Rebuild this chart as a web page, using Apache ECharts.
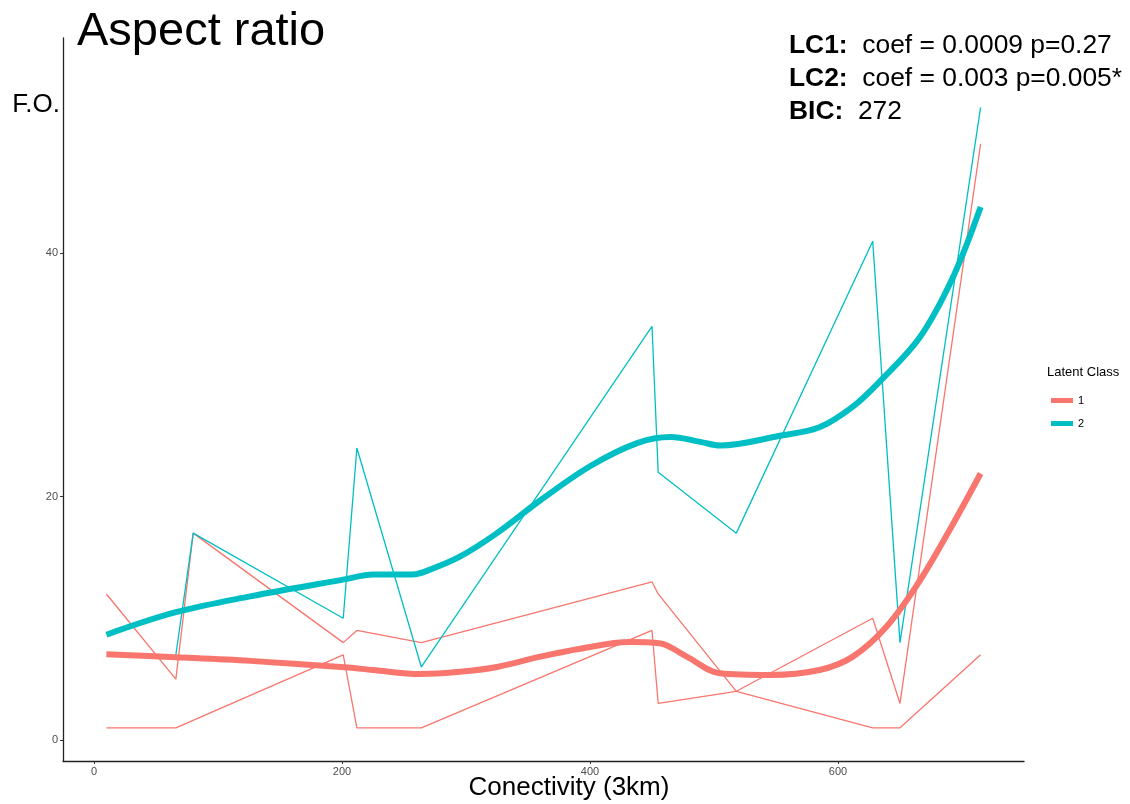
<!DOCTYPE html>
<html>
<head>
<meta charset="utf-8">
<script src="https://cdn.jsdelivr.net/npm/echarts@6/dist/echarts.min.js"></script>
<style>
html,body{margin:0;padding:0;background:#fff;}
#chart{width:1130px;height:804px;}
</style>
</head>
<body>
<div id="chart"></div>
<script>
// ---- data ----
const xTicks = [0, 200, 400, 600];
const yTicks = [0, 20, 40];

// individual trajectories, class 1 (two) and class 2 (one)
const ind1X = [10, 66, 80, 201, 212, 264, 450, 455, 518, 628, 650, 715];
const ind1Y = [12, 5, 17, 8, 9, 8, 13, 12, 4, 1, 1, 7];
const ind2X = [10, 66, 201, 212, 264, 450, 455, 518, 628, 650, 715];
const ind2Y = [1, 1, 7, 1, 1, 9, 3, 4, 10, 3, 49];
const ind3X = [66, 80, 201, 212, 264, 450, 455, 518, 628, 650, 715];
const ind3Y = [7, 17, 10, 24, 6, 34, 22, 17, 41, 8, 52];

// smoothed class trajectories
const lc1X = [10, 66, 126, 202, 225, 263, 295, 325, 360, 392, 432, 456, 478, 505, 545, 585, 612, 639, 666, 693, 715];
const lc1Y = [7.05, 6.8, 6.5, 5.97, 5.75, 5.42, 5.6, 6.0, 6.85, 7.5, 8.05, 7.95, 6.85, 5.48, 5.34, 5.75, 6.85, 9.3, 13.1, 17.8, 21.9];
const lc2X = [10, 66, 126, 202, 225, 257, 271, 295, 325, 360, 400, 438, 465, 489, 505, 553, 585, 612, 634, 666, 693, 715];
const lc2Y = [8.65, 10.5, 11.8, 13.2, 13.6, 13.6, 14.0, 15.06, 17.0, 19.7, 22.5, 24.4, 24.9, 24.5, 24.2, 25.0, 25.7, 27.4, 29.5, 33.1, 38.1, 43.8];

const classNames = ['1', '2'];
const classColors = ['#F8766D', '#00BFC4'];
const xAxisTitle = 'Conectivity (3km)';
const yAxisTitle = 'F.O.';

const zip = (xs, ys) => xs.map((x, i) => [x, ys[i]]);

const FONT = 'Liberation Sans, Arial, sans-serif';

const chart = echarts.init(document.getElementById('chart'), null, {renderer: 'canvas'});

const thin = (name, xs, ys, color) => ({
  name: name, type: 'line', data: zip(xs, ys), showSymbol: false, symbol: 'none',
  lineStyle: {color: color, width: 1.3}, itemStyle: {color: color},
  silent: true, z: 2
});
const thick = (name, xs, ys, color) => ({
  name: name, type: 'line', data: zip(xs, ys), showSymbol: false, symbol: 'none',
  smooth: 0.35,
  lineStyle: {color: color, width: 6}, itemStyle: {color: color},
  silent: true, z: 3
});

chart.setOption({
  animation: false,
  backgroundColor: '#ffffff',
  textStyle: {fontFamily: FONT},
  title: {
    text: 'Aspect ratio', left: 72, top: 4,
    textStyle: {fontSize: 47, fontWeight: 'normal', color: '#000', fontFamily: FONT}
  },
  grid: {left: 63, top: 38, right: 106, bottom: 43, containLabel: false, outerBoundsMode: 'none'},
  xAxis: {
    type: 'value', min: -25, max: 750,
    axisLine: {show: true, onZero: false, lineStyle: {color: '#222', width: 1.3}},
    axisTick: {show: true, customValues: xTicks, length: 3, lineStyle: {color: '#333'}},
    axisLabel: {customValues: xTicks, fontSize: 11, color: '#4d4d4d', margin: 5},
    splitLine: {show: false}
  },
  yAxis: {
    type: 'value', min: -1.73, max: 57.7,
    axisLine: {show: true, onZero: false, lineStyle: {color: '#222', width: 1.3}},
    axisTick: {show: true, customValues: yTicks, length: 3, lineStyle: {color: '#333'}},
    axisLabel: {customValues: yTicks, fontSize: 11, color: '#4d4d4d', margin: 5},
    splitLine: {show: false}
  },
  legend: {
    data: classNames, orient: 'vertical', left: 1046, top: 390,
    icon: 'rect', itemWidth: 22, itemHeight: 5, itemGap: 12,
    textStyle: {fontSize: 11, color: '#000', fontFamily: FONT}
  },
  graphic: [
    {type: 'text', left: 1047, top: 366, style: {text: 'Latent Class', fontSize: 13, fill: '#000', fontFamily: FONT}},
    {type: 'text', right: 1070, top: 92, style: {text: yAxisTitle, fontSize: 26, fill: '#000', fontFamily: FONT}},
    {type: 'text', x: 569, y: 775, style: {text: xAxisTitle, fontSize: 26, fill: '#000', fontFamily: FONT, align: 'center', verticalAlign: 'top'}},
    {type: 'text', left: 789, top: 29, style: {
      text: '{b|LC1:}  coef = 0.0009 p=0.27\n{b|LC2:}  coef = 0.003 p=0.005*\n{b|BIC:}  272',
      fontSize: 26.4, lineHeight: 33, fill: '#000', fontFamily: FONT,
      rich: {b: {fontSize: 26.4, fontWeight: 'bold', fontFamily: FONT, fill: '#000'}}
    }}
  ],
  series: [
    thin('ind1', ind1X, ind1Y, classColors[0]),
    thin('ind2', ind2X, ind2Y, classColors[0]),
    thin('ind3', ind3X, ind3Y, classColors[1]),
    thick(classNames[0], lc1X, lc1Y, classColors[0]),
    thick(classNames[1], lc2X, lc2Y, classColors[1])
  ]
});
</script>
</body>
</html>
